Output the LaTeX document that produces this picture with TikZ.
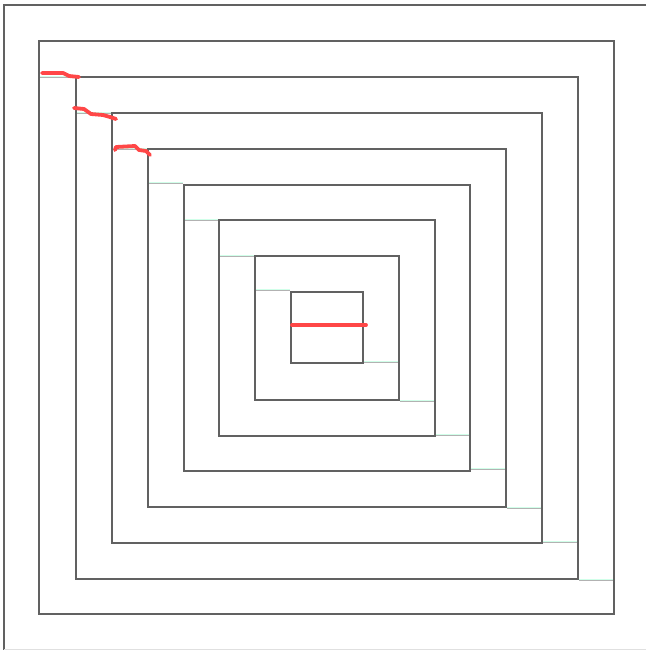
\documentclass[tikz,border=0pt]{standalone}
\usepackage{tikz}

\begin{document}
\begin{tikzpicture}[x=1pt, y=-1pt,
  wall/.style={draw=black!62, line width=1.2pt},
  link/.style={draw=black!30, line width=0.7pt,
    preaction={draw=lime!35!cyan!25, line width=2.4pt}},
  redline/.style={draw=red!72, line width=3.8pt, line cap=round, line join=round}]
  \useasboundingbox (0,0) rectangle (646,650);
  % outer frame
  \draw[wall] (646,5) -- (4,5) -- (4,650);
  \draw[draw=black!12, line width=1pt] (4,649) -- (646,649);
  % nested squares
  \draw[wall] (39,41) rectangle (614,614);
  \draw[wall] (76,77) rectangle (578,579);
  \draw[wall] (112,113) rectangle (542,543);
  \draw[wall] (148,149) rectangle (506,507);
  \draw[wall] (184,185) rectangle (470,471);
  \draw[wall] (219,220) rectangle (435,436);
  \draw[wall] (255,256) rectangle (399,400);
  \draw[wall] (291,292) rectangle (363,363);
  % steps at the top left
  \draw[link] (40,77) -- (75,77);
  \draw[link] (77,113) -- (111,113);
  \draw[link] (113,149) -- (147,149);
  \draw[link] (149,183) -- (183,183);
  \draw[link] (185,220) -- (218,220);
  \draw[link] (220,256) -- (254,256);
  \draw[link] (256,290) -- (290,290);
  % steps at the bottom right
  \draw[link] (364,362) -- (398,362);
  \draw[link] (400,401) -- (434,401);
  \draw[link] (436,435) -- (469,435);
  \draw[link] (471,469) -- (505,469);
  \draw[link] (507,508) -- (541,508);
  \draw[link] (543,542) -- (577,542);
  \draw[link] (579,580) -- (613,580);
  % red strokes
  \draw[redline] (292,325) -- (366,325);
  \draw[redline] (42,73) -- (63,73) -- (69,76) -- (79,77);
  \draw[redline] (74,108) -- (84,109) -- (91,114) -- (103,115) -- (110,117) -- (116,119);
  \draw[redline] (115,150) -- (116,147) -- (135,146) -- (139,150) -- (146,151) -- (150,155);
\end{tikzpicture}
\end{document}
